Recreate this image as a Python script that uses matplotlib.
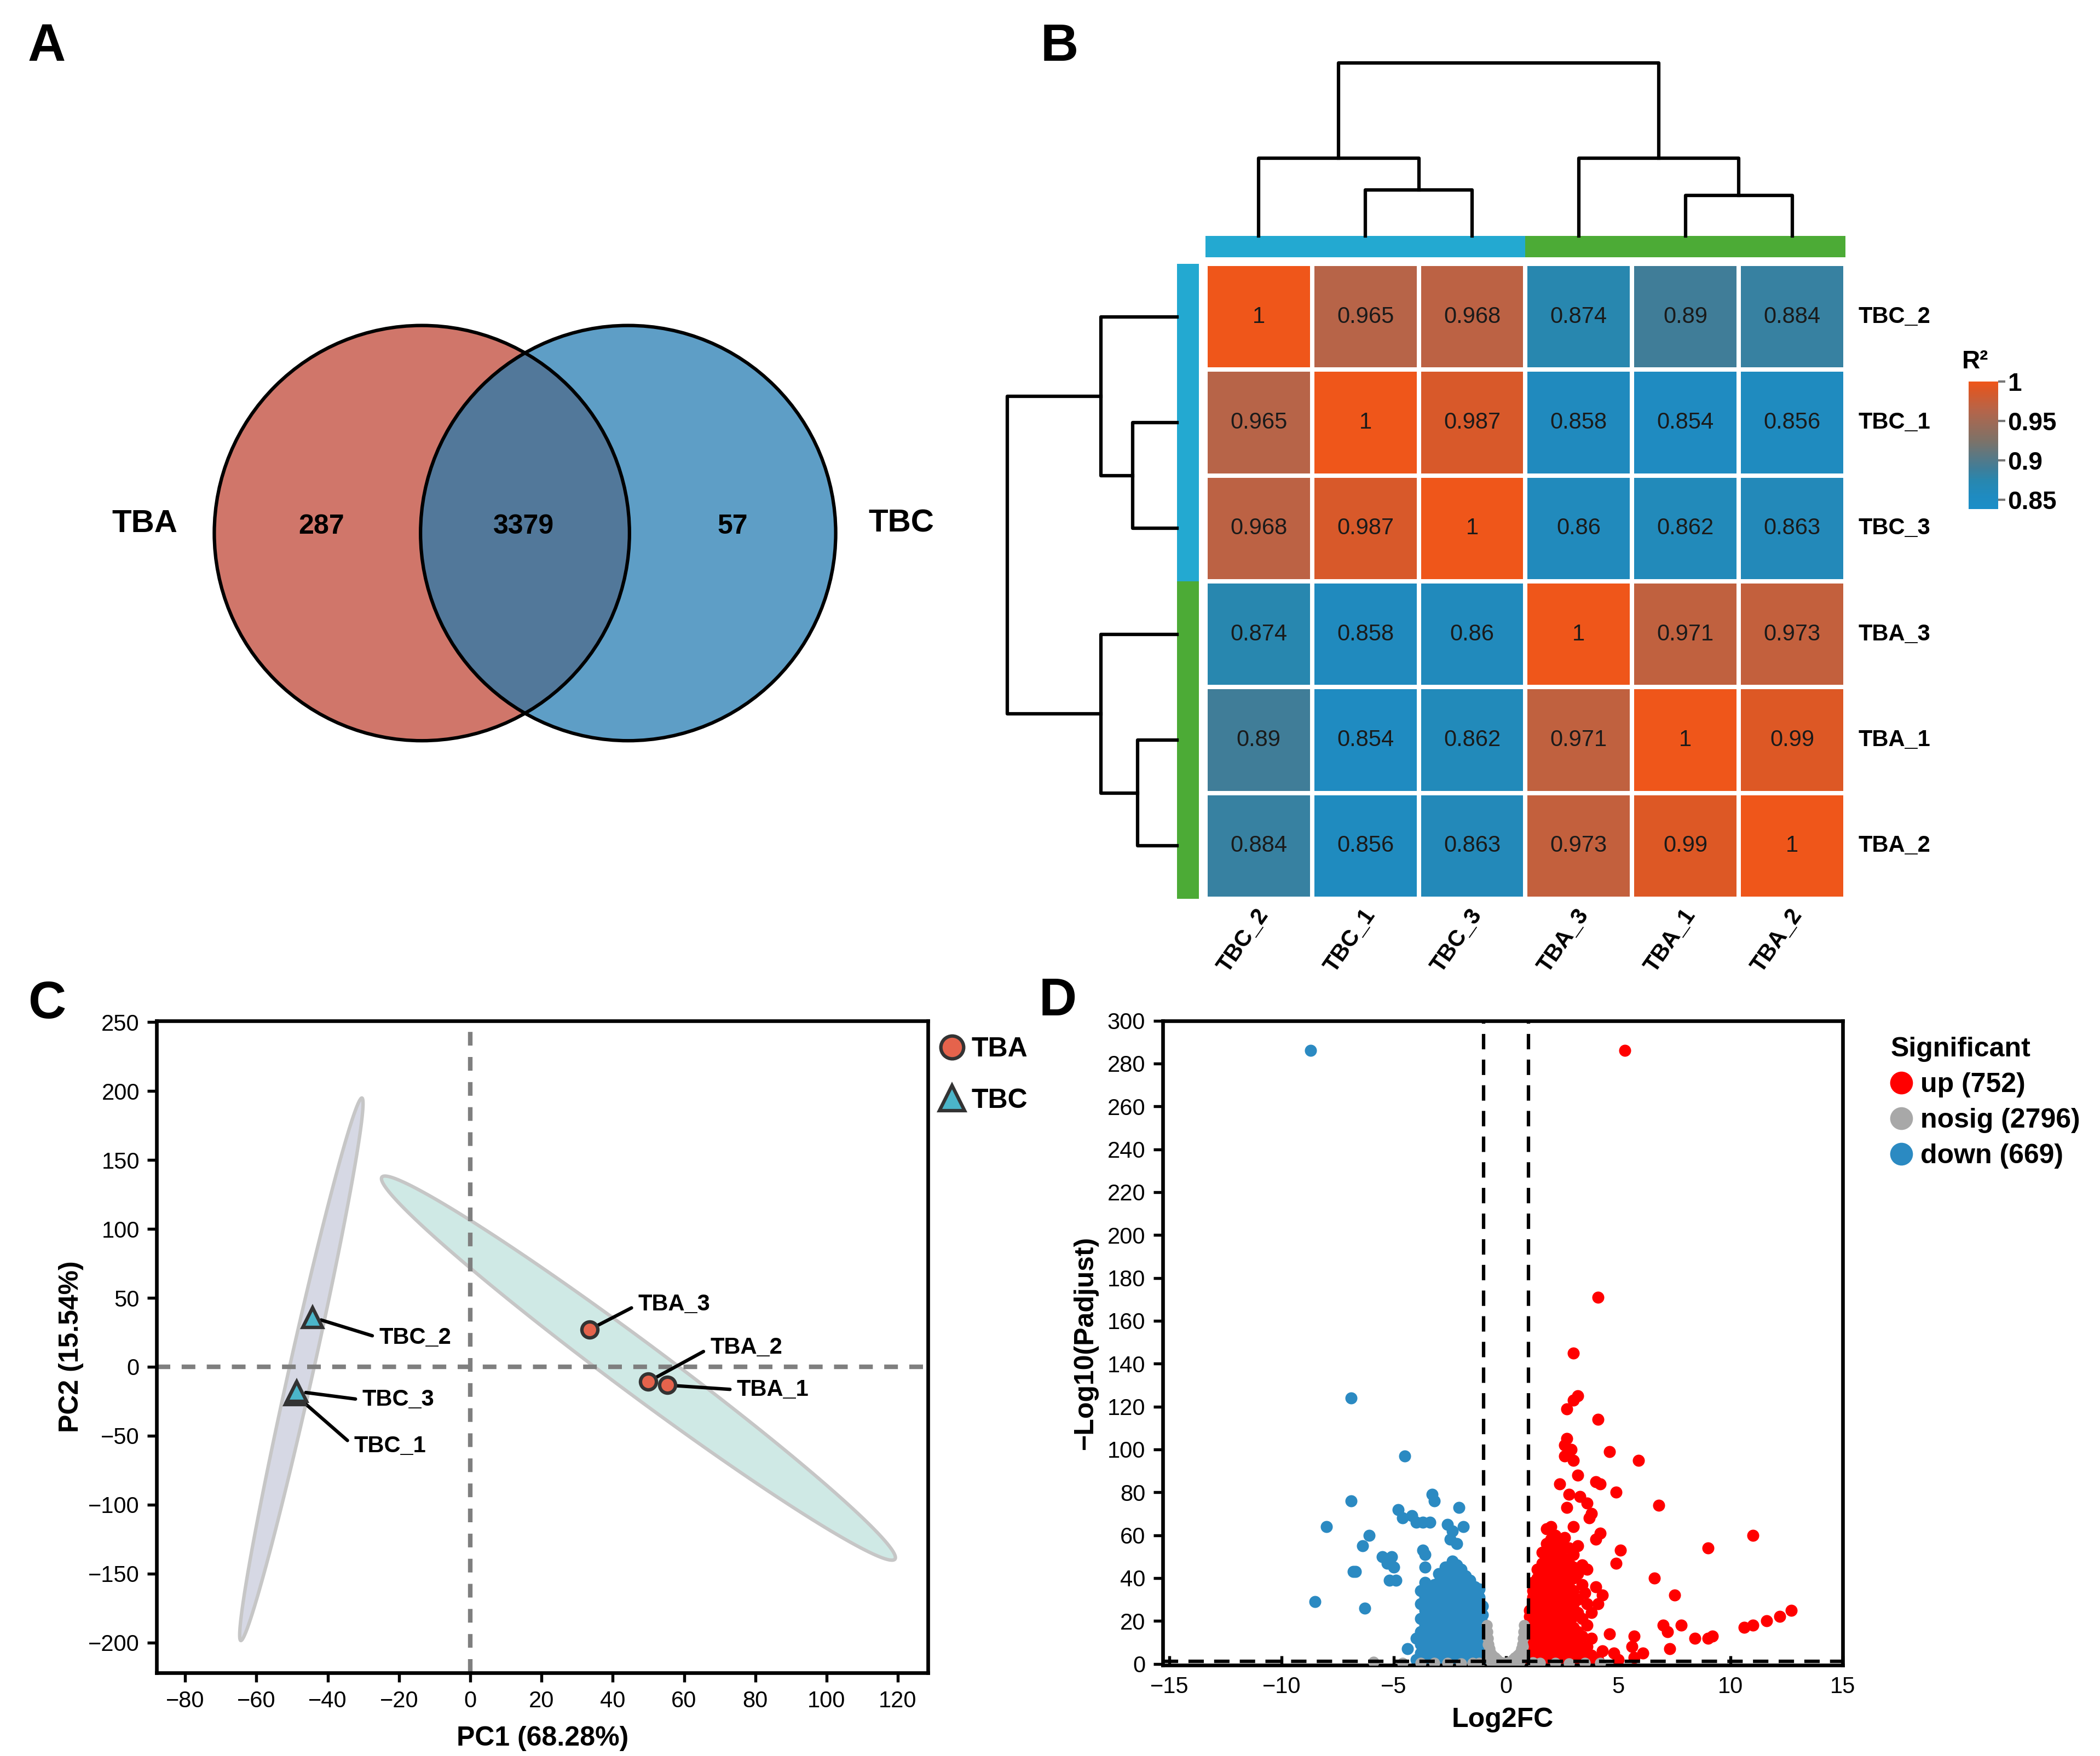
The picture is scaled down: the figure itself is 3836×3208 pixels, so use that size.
import numpy as np
import matplotlib
matplotlib.use("Agg")
import matplotlib.pyplot as plt
from matplotlib.patches import Circle, Polygon
from matplotlib.colors import LinearSegmentedColormap
from matplotlib.lines import Line2D

plt.rcParams["font.family"] = ["Liberation Sans", "DejaVu Sans"]

# ------------------------------------------------------------------ data
VENN_SETS = ["TBA", "TBC"]
VENN_COUNTS = [287, 3379, 57]          # TBA only, shared, TBC only

SAMPLES = ["TBC_2", "TBC_1", "TBC_3", "TBA_3", "TBA_1", "TBA_2"]
GROUPS = ["TBC", "TBC", "TBC", "TBA", "TBA", "TBA"]
R2 = [
    [1, 0.965, 0.968, 0.874, 0.89, 0.884],
    [0.965, 1, 0.987, 0.858, 0.854, 0.856],
    [0.968, 0.987, 1, 0.86, 0.862, 0.863],
    [0.874, 0.858, 0.86, 1, 0.971, 0.973],
    [0.89, 0.854, 0.862, 0.971, 1, 0.99],
    [0.884, 0.856, 0.863, 0.973, 0.99, 1],
]
# hierarchical clustering merges: (left, right, height)
MERGES = [("TBC_1", "TBC_3", 34), ("TBC_2", "m0", 58),
          ("TBA_1", "TBA_2", 30), ("TBA_3", "m2", 58), ("m1", "m3", 129)]

PCA_NAMES = ["TBA_1", "TBA_2", "TBA_3", "TBC_1", "TBC_2", "TBC_3"]
PCA_GROUP = ["TBA", "TBA", "TBA", "TBC", "TBC", "TBC"]
PC1 = [55.3, 50.0, 33.5, -49.2, -44.3, -48.7]
PC2 = [-13.3, -10.7, 27.0, -20.2, 35.9, -17.8]
LABEL_XY = [(74.8, -16.7), (67.3, 13.7), (47.1, 45.2),
            (-32.7, -57.4), (-25.6, 21.0), (-30.3, -24.0)]
# confidence ellipses: centre, two conjugate semi-axes (data units)
ELLIPSES = {
    "TBA": ((47.2, -0.95), (72.0, -138.5), (-4.3, -14.7)),
    "TBC": ((-47.4, -1.8), (17.0, 196.7), (3.3, -1.9)),
}

# volcano: outliers (log2FC, -log10 padj) and dense columns {log2FC: [-log10 padj]}
UP_POINTS = [
    (5.3, 286), (4.1, 171), (3.0, 145), (3.2, 125), (3.0, 123), (2.7, 119),
    (4.1, 114), (2.7, 105), (2.6, 102), (2.9, 100), (2.6, 97), (3.0, 95),
    (4.6, 99), (5.9, 95), (3.2, 88), (2.4, 84), (4.0, 85), (4.2, 84),
    (4.9, 80), (2.8, 79), (3.3, 78), (3.6, 75), (2.7, 73), (3.8, 70),
    (3.7, 68), (6.8, 74), (3.0, 64), (4.2, 61), (4.0, 58), (11.0, 60),
    (9.0, 54), (5.1, 53), (4.9, 47), (6.6, 40), (7.5, 32), (3.5, 33),
    (4.0, 36), (4.3, 32), (4.1, 28), (12.7, 25), (12.2, 22), (11.6, 20),
    (11.0, 18), (10.6, 17), (7.0, 18), (7.2, 15), (7.8, 18), (8.4, 12),
    (9.0, 12), (9.2, 13), (5.7, 13), (6.1, 5), (5.6, 8), (5.7, 3), (7.3, 7),
    (4.6, 14), (3.8, 4), (4.3, 6), (4.8, 5), (4.1, 2), (3.5, 2), (5.0, 2),
]
UP_COLUMNS = {
    1.05: [1, 4, 7, 10, 13, 16, 19, 22, 25],
    1.2: [2, 5, 9, 12, 15, 18, 21, 24, 27, 31, 34, 38],
    1.4: [1, 4, 8, 11, 14, 17, 20, 23, 27, 30, 33, 37, 40, 44],
    1.6: [2, 5, 9, 12, 16, 19, 22, 25, 29, 32, 36, 39, 43, 47, 52],
    1.8: [1, 4, 7, 11, 14, 18, 21, 24, 28, 31, 34, 38, 41, 45, 50, 56, 63],
    2.0: [3, 6, 9, 13, 16, 20, 23, 27, 30, 33, 37, 40, 44, 48, 53, 58, 64],
    2.2: [1, 5, 8, 12, 15, 19, 22, 26, 29, 33, 36, 40, 43, 47, 52, 56, 60],
    2.4: [3, 7, 10, 14, 17, 21, 25, 28, 32, 35, 39, 42, 46, 50, 54],
    2.6: [2, 5, 9, 13, 16, 20, 24, 27, 31, 35, 38, 44, 49, 54, 59],
    2.8: [4, 8, 12, 15, 19, 23, 27, 31, 36, 41, 47, 54],
    3.0: [2, 6, 11, 17, 22, 28, 34, 40, 45, 51],
    3.2: [3, 9, 15, 24, 30, 42, 55],
    3.4: [5, 13, 21, 37, 46],
    3.6: [8, 18, 28, 44],
    3.8: [3, 12, 24],
}
DOWN_POINTS = [
    (-8.7, 286), (-6.9, 124), (-4.5, 97), (-6.9, 76), (-8.0, 64),
    (-3.3, 79), (-3.2, 76), (-2.1, 73), (-4.8, 72), (-4.6, 68), (-4.2, 69),
    (-4.0, 66), (-3.7, 66), (-3.4, 66), (-2.6, 65), (-2.4, 62), (-1.9, 64),
    (-2.2, 56), (-6.1, 60), (-6.4, 55), (-2.5, 58), (-5.5, 50), (-5.1, 50),
    (-5.3, 47), (-5.0, 45), (-3.7, 53), (-3.6, 51), (-2.4, 48), (-2.7, 45),
    (-6.8, 43), (-6.7, 43), (-5.2, 39), (-4.9, 39), (-8.5, 29), (-6.3, 26),
    (-4.4, 7),
]
DOWN_COLUMNS = {
    -1.05: [1, 4, 7, 10, 13, 16, 19, 23, 27],
    -1.2: [2, 5, 9, 12, 16, 19, 23, 27, 31, 35],
    -1.4: [1, 4, 8, 11, 15, 18, 22, 26, 29, 33, 36],
    -1.6: [3, 6, 10, 13, 17, 21, 24, 28, 31, 35, 39],
    -1.8: [2, 5, 9, 12, 16, 19, 23, 27, 30, 34, 38, 41],
    -2.0: [1, 4, 8, 11, 15, 18, 22, 25, 29, 33, 36, 40, 44],
    -2.2: [3, 6, 10, 14, 17, 21, 24, 28, 32, 35, 39, 42, 46],
    -2.4: [2, 5, 9, 12, 16, 20, 23, 27, 31, 34, 38, 41],
    -2.6: [1, 4, 8, 11, 15, 19, 22, 26, 30, 33, 37, 40, 45],
    -2.8: [3, 7, 10, 14, 18, 21, 25, 29, 32, 36, 39],
    -3.0: [2, 6, 9, 13, 17, 20, 24, 28, 31, 35, 38, 42],
    -3.2: [1, 5, 8, 12, 16, 19, 23, 27, 30, 34, 37],
    -3.4: [3, 7, 11, 15, 18, 22, 26, 29, 33],
    -3.6: [2, 6, 10, 14, 18, 22, 25, 31, 38, 45],
    -3.8: [1, 5, 9, 15, 21, 28, 34],
    -4.0: [2, 12],
}
NOSIG_POINTS = [
    (-0.85, 18), (-0.82, 15), (-0.8, 12), (-0.78, 9), (-0.74, 7), (-0.68, 5),
    (-0.6, 4), (-0.5, 3), (-0.4, 2), (-0.3, 1), (-0.8, 5), (-0.78, 3),
    (-0.72, 2), (-0.65, 1), (-0.8, 9), (-0.55, 1.5), (-0.5, 0.8),
    (0.8, 18), (0.78, 15), (0.75, 12), (0.72, 9), (0.68, 7), (0.6, 5),
    (0.5, 4), (0.4, 3), (0.3, 2), (0.2, 1), (0.76, 5), (0.72, 3), (0.66, 2),
    (0.6, 1), (0.76, 8), (0.5, 1.5), (0.4, 0.8), (-0.1, 0.5),
    (0.0, 0.3), (0.1, 0.6), (-0.2, 0.8), (-5.9, 1.0), (-3.8, 0.5),
    (-3.2, 0.3), (-2.6, 0.4), (-2.0, 0.2), (-1.5, 0.3), (1.5, 0.3),
    (2.2, 0.4), (2.8, 0.2), (3.5, 0.5), (4.2, 0.3), (-4.6, 0.4),
    (-1.2, 0.5), (1.2, 0.6),
]
VOLCANO_COUNTS = {"up": 752, "nosig": 2796, "down": 669}

# ------------------------------------------------------------------ style
W, H = 1568, 1311      # layout grid
TBA_RED = "#D0766A"
TBC_BLUE = "#5E9EC6"
OVERLAP = "#52789A"
BAR_COL = {"TBC": "#23A9D1", "TBA": "#4CAB36"}
PT_COL = {"TBA": "#E5634C", "TBC": "#4BB5C9"}
ELL_COL = {"TBA": "#CFE9E5", "TBC": "#D6D8E4"}
VOLC = {"up": "#FF0000", "nosig": "#A8A8A8", "down": "#2B8AC2"}
VMIN, VMAX = 0.838, 1.0
R2_STOPS = [(0.838, "#1A8EC8"), (0.855, "#1F8BC0"), (0.874, "#2887AF"),
            (0.89, "#407D98"), (0.925, "#7D7268"), (0.965, "#B76448"),
            (0.99, "#DC5826"), (1.0, "#EF561A")]


def fbox(x0, y0, x1, y1):
    return [x0 / W, 1 - y1 / H, (x1 - x0) / W, (y1 - y0) / H]


fig = plt.figure(figsize=(3836 / 300, 3208 / 300), dpi=300)

# ---------------------------------------------------------------- A: Venn
ax = fig.add_axes([0, 1 - 655 / H, 760 / W, 655 / H])
ax.set_xlim(0, 760); ax.set_ylim(655, 0); ax.axis("off")
left = Circle((315, 398), 155, facecolor=TBA_RED, edgecolor="none")
right = Circle((469, 398), 155, facecolor=TBC_BLUE, edgecolor="none")
ax.add_patch(left); ax.add_patch(right)
ov = Circle((469, 398), 155, facecolor=OVERLAP, edgecolor="none")
ax.add_patch(ov); ov.set_clip_path(left)
for cx in (315, 469):
    ax.add_patch(Circle((cx, 398), 155, facecolor="none", edgecolor="black", lw=1.5))
for x, n in zip((240, 391, 547), VENN_COUNTS):
    ax.text(x, 393, str(n), ha="center", va="center", fontsize=12, fontweight="bold")
ax.text(108, 391, VENN_SETS[0], ha="center", va="center", fontsize=14, fontweight="bold")
ax.text(673, 391, VENN_SETS[1], ha="center", va="center", fontsize=14, fontweight="bold")

# ---------------------------------------------------------------- B: heatmap
cmap = LinearSegmentedColormap.from_list(
    "r2", [((v - VMIN) / (VMAX - VMIN), c) for v, c in R2_STOPS])
axh = fig.add_axes(fbox(900, 197, 1378, 671))
mesh = axh.pcolormesh(np.array(R2), cmap=cmap, vmin=VMIN, vmax=VMAX,
                      edgecolors="white", linewidth=1.5)
axh.set_xlim(0, 6); axh.set_ylim(6, 0); axh.axis("off")
for i in range(6):
    for j in range(6):
        axh.text(j + 0.5, i + 0.5, f"{R2[i][j]:g}", ha="center", va="center",
                 fontsize=10, color="#1a1a1a")
    axh.text(6.12, i + 0.5, SAMPLES[i], ha="left", va="center",
             fontsize=10, fontweight="bold")
    axh.text(i + 0.55, 6.12, SAMPLES[i], ha="right", va="center", rotation=55,
             rotation_mode="anchor", fontsize=10, fontweight="bold")

axt = fig.add_axes(fbox(900, 176, 1378, 192))
axt.bar(np.arange(6) + 0.5, 1, width=1.0, color=[BAR_COL[g] for g in GROUPS])
axt.set_xlim(0, 6); axt.set_ylim(0, 1); axt.axis("off")
axl = fig.add_axes(fbox(879, 197, 895, 671))
axl.barh(np.arange(6) + 0.5, 1, height=1.0, color=[BAR_COL[g] for g in GROUPS])
axl.set_ylim(6, 0); axl.set_xlim(0, 1); axl.axis("off")


def dendro(ax, vertical):
    pos = {s: i + 0.5 for i, s in enumerate(SAMPLES)}
    hgt = {s: 0 for s in SAMPLES}
    for k, (a, b, h) in enumerate(MERGES):
        xs = [pos[a], pos[a], pos[b], pos[b]]
        ys = [hgt[a], h, h, hgt[b]]
        if vertical:
            ax.plot(xs, ys, color="black", lw=1.5, clip_on=False, solid_capstyle="projecting")
        else:
            ax.plot(ys, xs, color="black", lw=1.5, clip_on=False, solid_capstyle="projecting")
        pos["m%d" % k] = (pos[a] + pos[b]) / 2
        hgt["m%d" % k] = h


axdt = fig.add_axes(fbox(900, 47, 1378, 176))
dendro(axdt, True)
axdt.set_xlim(0, 6); axdt.set_ylim(0, 129); axdt.axis("off")
axdl = fig.add_axes(fbox(752, 197, 879, 671))
dendro(axdl, False)
axdl.set_xlim(129, 0); axdl.set_ylim(6, 0); axdl.axis("off")

cax = fig.add_axes(fbox(1470, 285, 1492, 380))
cb = fig.colorbar(mesh, cax=cax, ticks=[0.85, 0.9, 0.95, 1])
cb.outline.set_visible(False)
cb.ax.set_yticklabels(["0.85", "0.9", "0.95", "1"], fontsize=11, fontweight="bold")
cb.ax.tick_params(length=3, width=1, color="#777777", pad=1)
fig.text(1465 / W, 1 - 270 / H, "R²", ha="left", va="center",
         fontsize=11, fontweight="bold")

# ---------------------------------------------------------------- C: PCA
axc = fig.add_axes(fbox(117, 762, 693, 1249))
tt = np.linspace(0, 2 * np.pi, 200)
for g, (c, a, b) in ELLIPSES.items():
    pts = np.column_stack([c[0] + a[0] * np.cos(tt) + b[0] * np.sin(tt),
                           c[1] + a[1] * np.cos(tt) + b[1] * np.sin(tt)])
    axc.add_patch(Polygon(pts, closed=True, facecolor=ELL_COL[g],
                          edgecolor="#C6C6C6", lw=1.5, zorder=1))
axc.axvline(0, color="#7F7F7F", lw=2, dashes=(3, 2.5), zorder=2)
axc.axhline(0, color="#7F7F7F", lw=2, dashes=(3, 2.5), zorder=2)
for x, y, g, name, lxy in zip(PC1, PC2, PCA_GROUP, PCA_NAMES, LABEL_XY):
    axc.annotate(name, xy=(x, y), xytext=lxy, ha="left", va="center",
                 fontsize=10, fontweight="bold", zorder=4,
                 arrowprops=dict(arrowstyle="-", color="black", lw=1.5,
                                 shrinkA=1, shrinkB=4, relpos=(0, 0.5)))
for g, m, ms in (("TBA", "o", 7), ("TBC", "^", 8.5)):
    xs = [x for x, gg in zip(PC1, PCA_GROUP) if gg == g]
    ys = [y for y, gg in zip(PC2, PCA_GROUP) if gg == g]
    axc.plot(xs, ys, m, ms=ms, mfc=PT_COL[g], mec="#333333", mew=1.5,
             ls="none", zorder=5)
axc.set_xlim(-88, 128.5); axc.set_ylim(-222, 251)
axc.set_xticks(range(-80, 121, 20)); axc.set_yticks(range(-200, 251, 50))
axc.tick_params(labelsize=10, length=4, width=1.3, direction="out")
for s in axc.spines.values():
    s.set_linewidth(1.6)
axc.set_xlabel("PC1 (68.28%)", fontsize=12, fontweight="bold", labelpad=6)
axc.set_ylabel("PC2 (15.54%)", fontsize=12, fontweight="bold", labelpad=2)
hand = [Line2D([], [], marker="o", ls="none", ms=10, mfc=PT_COL["TBA"], mec="#333333", mew=1.5),
        Line2D([], [], marker="^", ls="none", ms=11, mfc=PT_COL["TBC"], mec="#333333", mew=1.5)]
axc.legend(hand, ["TBA", "TBC"], loc="upper left", bbox_to_anchor=(1.015, 0.975),
           frameon=False, prop=dict(size=12, weight="bold"), handlelength=0.9,
           handletextpad=0.25, labelspacing=0.95, borderpad=0, borderaxespad=0)

# ---------------------------------------------------------------- D: volcano
axd = fig.add_axes(fbox(868, 762, 1376, 1243))


def expand(points, columns):
    xs = [p[0] for p in points]
    ys = [p[1] for p in points]
    for x, col in columns.items():
        xs += [x] * len(col)
        ys += col
    return xs, ys


ns_x, ns_y = expand(NOSIG_POINTS, {})
dn_x, dn_y = expand(DOWN_POINTS, DOWN_COLUMNS)
up_x, up_y = expand(UP_POINTS, UP_COLUMNS)
axd.scatter(up_x, up_y, s=28, color=VOLC["up"], linewidths=0, zorder=2)
axd.scatter(dn_x, dn_y, s=28, color=VOLC["down"], linewidths=0, zorder=2)
axd.scatter(ns_x, ns_y, s=24, color=VOLC["nosig"], linewidths=0, zorder=3)
for x in (-1, 1):
    axd.axvline(x, color="black", lw=1.5, dashes=(4.5, 3), zorder=4)
axd.axhline(-np.log10(0.05), color="black", lw=1.5, dashes=(4.5, 3), zorder=4)
axd.set_xlim(-15.3, 15); axd.set_ylim(-0.5, 300)
axd.set_xticks(range(-15, 16, 5)); axd.set_yticks(range(0, 301, 20))
axd.tick_params(axis="x", direction="in", length=4, width=1.3, labelsize=10, pad=5)
axd.tick_params(axis="y", direction="out", length=4, width=1.3, labelsize=10)
for s in axd.spines.values():
    s.set_linewidth(1.6)
axd.set_xlabel("Log2FC", fontsize=12, fontweight="bold", labelpad=4)
axd.set_ylabel("\u2212Log10(Padjust)", fontsize=12, fontweight="bold", labelpad=4)
vh = [Line2D([], [], marker="o", ls="none", ms=10, mfc=VOLC[k], mec="none")
      for k in ("up", "nosig", "down")]
axd.legend(vh, [f"{k} ({VOLCANO_COUNTS[k]})" for k in ("up", "nosig", "down")],
           title="Significant", loc="upper left", bbox_to_anchor=(1.07, 0.975),
           frameon=False, prop=dict(size=12, weight="bold"),
           title_fontproperties=dict(size=12, weight="bold"), alignment="left",
           handlelength=0.8, handletextpad=0.3, labelspacing=0.38,
           borderpad=0, borderaxespad=0)

# ---------------------------------------------------------------- letters
for t, x, y in (("A", 35, 35), ("B", 791, 35), ("C", 35, 750), ("D", 790, 748)):
    fig.text(x / W, 1 - y / H, t, ha="center", va="center", fontsize=23, fontweight="bold")

fig.savefig("out.png", dpi=300)
